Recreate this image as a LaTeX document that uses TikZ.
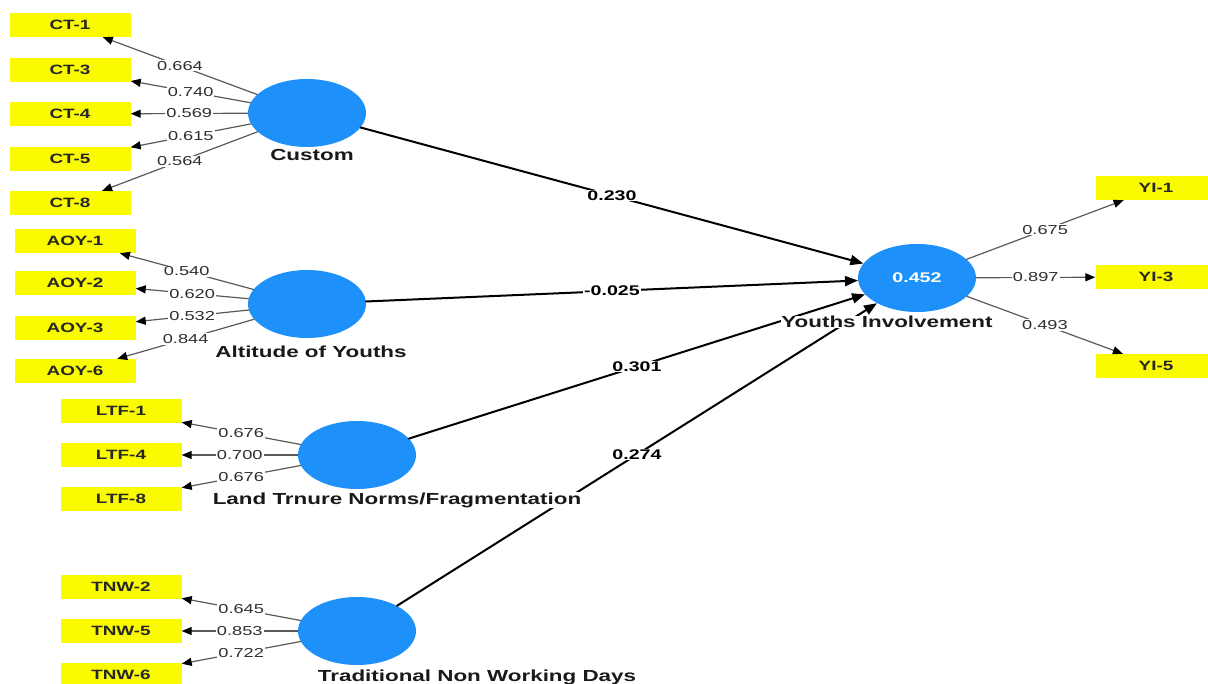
\documentclass[tikz,border=0pt]{standalone}
\usepackage{fontspec}
\setmainfont{Liberation Sans}[FakeStretch=1.4]
\usepackage{tikz}
\usetikzlibrary{shapes.geometric,arrows.meta}
\definecolor{lvblue}{RGB}{30,144,250}
\definecolor{mvyellow}{RGB}{250,250,0}

\begin{document}
\begin{tikzpicture}[x=1pt,y=-1pt,line cap=round,
  lv/.style={ellipse,fill=lvblue,minimum width=118pt,minimum height=68pt,inner sep=0pt},
  mv/.style={fill=mvyellow,minimum width=121pt,minimum height=24pt,inner sep=0pt,
    font=\fontsize{13.5}{15}\selectfont\bfseries,text=black!85},
  lvname/.style={fill=white,inner sep=0.5pt,font=\fontsize{16}{18}\selectfont\bfseries,text=black!90},
  load/.style={draw=black!65,line width=1.2pt,-{Triangle[length=10pt,width=8pt,color=black]}},
  wt/.style={fill=white,inner sep=1pt,font=\fontsize{13}{15}\selectfont,text=black!82},
  inner/.style={draw=black,line width=2pt,-{Triangle[length=13pt,width=10pt]}},
  coef/.style={fill=white,inner sep=1pt,font=\fontsize{14}{16}\selectfont\bfseries}]
\useasboundingbox (0,0) rectangle (1208,684);
% latent variables
\node[lv] (cust) at (307,113) {};
\node[lv] (aoy) at (307,304) {};
\node[lv] (ltf) at (357,455) {};
\node[lv] (tnw) at (357,631) {};
\node[lv,text=white,font=\fontsize{14}{16}\selectfont\bfseries] (yi) at (917,278) {0.452};
% indicators
\node[mv] (ct1) at (70,25) {CT-1};
\node[mv] (ct3) at (70,70) {CT-3};
\node[mv] (ct4) at (70,114) {CT-4};
\node[mv] (ct5) at (70,159) {CT-5};
\node[mv] (ct8) at (70,203) {CT-8};
\node[mv] (aoy1) at (75,241) {AOY-1};
\node[mv] (aoy2) at (75,283) {AOY-2};
\node[mv] (aoy3) at (75,328) {AOY-3};
\node[mv] (aoy6) at (75,371) {AOY-6};
\node[mv] (ltf1) at (121,411) {LTF-1};
\node[mv] (ltf4) at (121,455) {LTF-4};
\node[mv] (ltf8) at (121,499) {LTF-8};
\node[mv] (tnw2) at (121,587) {TNW-2};
\node[mv] (tnw5) at (121,631) {TNW-5};
\node[mv] (tnw6) at (121,675) {TNW-6};
\node[mv] (yi1) at (1156,188) {YI-1};
\node[mv] (yi3) at (1156,277) {YI-3};
\node[mv] (yi5) at (1156,366) {YI-5};
% outer loadings
\draw[load] (cust) -- (ct1) node[wt,midway] {0.664};
\draw[load] (cust) -- (ct3) node[wt,midway] {0.740};
\draw[load] (cust) -- (ct4) node[wt,midway] {0.569};
\draw[load] (cust) -- (ct5) node[wt,midway] {0.615};
\draw[load] (cust) -- (ct8) node[wt,midway] {0.564};
\draw[load] (aoy) -- (aoy1) node[wt,midway] {0.540};
\draw[load] (aoy) -- (aoy2) node[wt,midway] {0.620};
\draw[load] (aoy) -- (aoy3) node[wt,midway] {0.532};
\draw[load] (aoy) -- (aoy6) node[wt,midway] {0.844};
\draw[load] (ltf) -- (ltf1) node[wt,midway] {0.676};
\draw[load] (ltf) -- (ltf4) node[wt,midway] {0.700};
\draw[load] (ltf) -- (ltf8) node[wt,midway] {0.676};
\draw[load] (tnw) -- (tnw2) node[wt,midway] {0.645};
\draw[load] (tnw) -- (tnw5) node[wt,midway] {0.853};
\draw[load] (tnw) -- (tnw6) node[wt,midway] {0.722};
\draw[load] (yi) -- (yi1) node[wt,midway] {0.675};
\draw[load] (yi) -- (yi3) node[wt,midway] {0.897};
\draw[load] (yi) -- (yi5) node[wt,midway] {0.493};
% path coefficients
\draw[inner] (cust) -- (yi) node[coef,midway] {0.230};
\draw[inner] (aoy) -- (yi) node[coef,midway] {-0.025};
\draw[inner] (ltf) -- (yi) node[coef,midway] {0.301};
\draw[inner] (tnw) -- (yi) node[coef,midway] {0.274};
% names
\node[lvname] (custname) at (312,155) {Custom};
\node[lvname] (aoyname) at (311,352) {Altitude of Youths};
\node[lvname] (ltfname) at (397,500) {Land Trnure Norms/Fragmentation};
\node[lvname] (tnwname) at (477,677) {Traditional Non Working Days};
\node[lvname] (yiname) at (887,322) {Youths Involvement};
\end{tikzpicture}
\end{document}
